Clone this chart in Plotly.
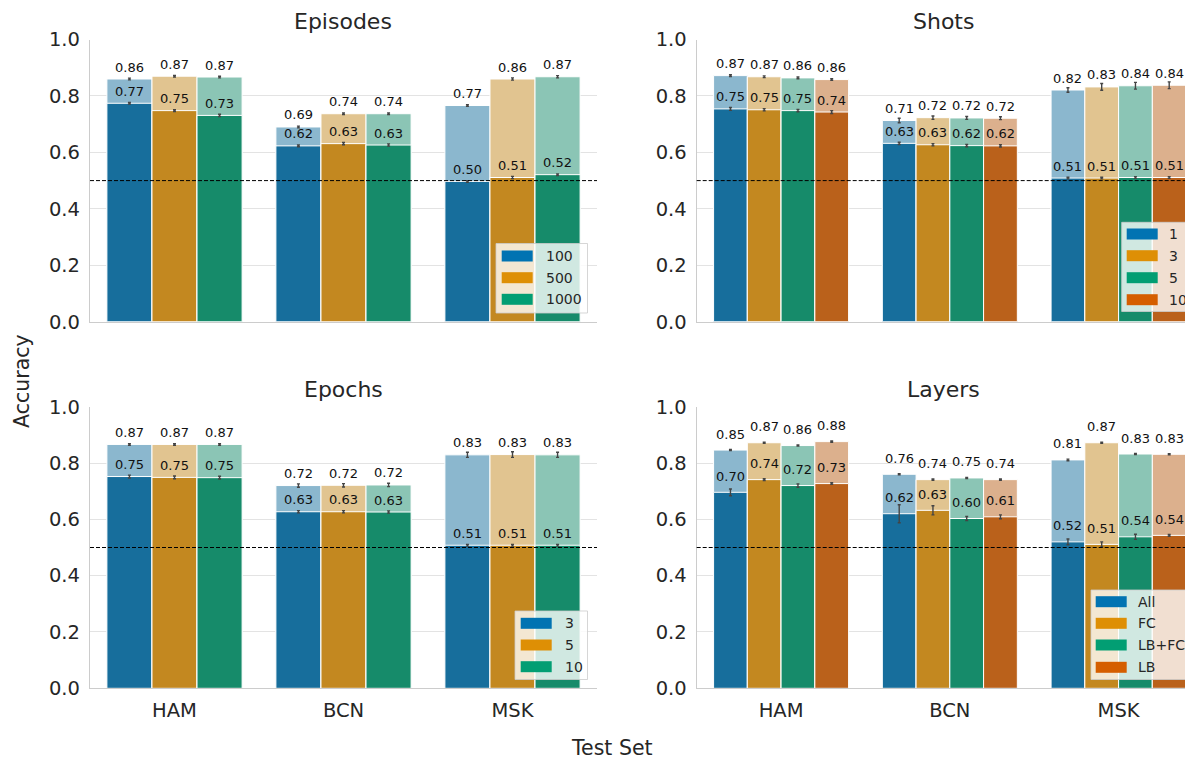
import plotly.graph_objects as go

# ---------------- data ----------------
categories = ["HAM", "BCN", "MSK"]

episodes_hues = ["100", "500", "1000"]
episodes_top = [[0.860, 0.690, 0.766], [0.870, 0.737, 0.860], [0.867, 0.737, 0.868]]
episodes_top_err = [[0.003, 0.003, 0.003], [0.003, 0.003, 0.004], [0.003, 0.003, 0.004]]
episodes_acc = [[0.774, 0.623, 0.497], [0.748, 0.631, 0.511], [0.731, 0.626, 0.521]]
episodes_acc_err = [[0.003, 0.003, 0.003], [0.003, 0.004, 0.004], [0.004, 0.004, 0.003]]

shots_hues = ["1", "3", "5", "10"]
shots_top = [[0.872, 0.713, 0.821], [0.868, 0.723, 0.832], [0.864, 0.722, 0.836], [0.858, 0.721, 0.838]]
shots_top_err = [[0.003, 0.008, 0.008], [0.003, 0.006, 0.012], [0.003, 0.005, 0.012], [0.003, 0.005, 0.012]]
shots_acc = [[0.754, 0.632, 0.509], [0.751, 0.627, 0.509], [0.748, 0.624, 0.511], [0.743, 0.623, 0.511]]
shots_acc_err = [[0.005, 0.004, 0.003], [0.004, 0.004, 0.003], [0.004, 0.004, 0.003], [0.005, 0.004, 0.003]]

epochs_hues = ["3", "5", "10"]
epochs_top = [[0.866, 0.720, 0.829], [0.866, 0.721, 0.830], [0.866, 0.722, 0.829]]
epochs_top_err = [[0.003, 0.006, 0.009], [0.003, 0.006, 0.010], [0.003, 0.006, 0.009]]
epochs_acc = [[0.752, 0.627, 0.508], [0.749, 0.627, 0.508], [0.748, 0.626, 0.508]]
epochs_acc_err = [[0.005, 0.004, 0.003], [0.005, 0.004, 0.003], [0.005, 0.004, 0.003]]

layers_hues = ["All", "FC", "LB+FC", "LB"]
layers_top = [[0.846, 0.760, 0.811], [0.872, 0.741, 0.872], [0.862, 0.747, 0.832], [0.876, 0.741, 0.831]]
layers_top_err = [[0.002, 0.002, 0.003], [0.002, 0.002, 0.002], [0.002, 0.002, 0.002], [0.002, 0.002, 0.002]]
layers_acc = [[0.696, 0.620, 0.520], [0.741, 0.632, 0.511], [0.720, 0.603, 0.538], [0.727, 0.609, 0.543]]
layers_acc_err = [[0.012, 0.032, 0.010], [0.003, 0.016, 0.009], [0.006, 0.007, 0.009], [0.003, 0.007, 0.003]]

chance_level = 0.5
y_ticks = [0.0, 0.2, 0.4, 0.6, 0.8, 1.0]

# ---------------- styling ----------------
VW, VH = 1193, 761          # browser viewport
OX, OY = 8, 8               # page body margin
W, H = VW - OX, VH - OY     # figure size
FONT = "DejaVu Sans"
TXT = "#262626"
base_colors = ["#0173b2", "#de8f05", "#029e73", "#d55e00"]
dark_colors = ["#176e9c", "#c38820", "#168b6a", "#ba611b"]
light_colors = ["#8bb7ce", "#e1c490", "#8bc5b5", "#dcb08d"]


def fx(p):
    return (p - OX) / W


def fy(p):
    return 1 - (p - OY) / H


UNIT = 168.75
panels = [
    dict(title="Episodes", hues=episodes_hues, top=episodes_top, top_err=episodes_top_err,
         acc=episodes_acc, acc_err=episodes_acc_err,
         xpx=(90, 597), ypx=(39.5, 321.7), xmax=2.5, ticklabels=False, shift=12, tcx=343.5,
         leg=dict(box=(496, 243.5, 587.5, 313), patch=(501.7, 532.7), rows=[256, 277.7, 299.3], tx=544.3)),
    dict(title="Shots", hues=shots_hues, top=shots_top, top_err=shots_top_err,
         acc=shots_acc, acc_err=shots_acc_err,
         xpx=(696.7, VW), ypx=(39.5, 321.7), xmax=-0.5 + (VW - 696.7) / UNIT, ticklabels=False, shift=12, tcx=943.5,
         leg=dict(box=(1121.7, 222.3, 1205, 311.5), patch=(1126.7, 1157.7), rows=[234, 255.7, 277.7, 299.7], tx=1166.5)),
    dict(title="Epochs", hues=epochs_hues, top=epochs_top, top_err=epochs_top_err,
         acc=epochs_acc, acc_err=epochs_acc_err,
         xpx=(90, 597), ypx=(406.7, 688.3), xmax=2.5, ticklabels=True, shift=12, tcx=343.5,
         leg=dict(box=(515, 611, 587.5, 679.5), patch=(520.7, 551.7), rows=[623.3, 645, 666.7], tx=563.3)),
    dict(title="Layers", hues=layers_hues, top=layers_top, top_err=layers_top_err,
         acc=layers_acc, acc_err=layers_acc_err,
         xpx=(696.7, VW), ypx=(406.7, 688.3), xmax=-0.5 + (VW - 696.7) / UNIT, ticklabels=True, shift=16, tcx=943.5,
         leg=dict(box=(1091, 590, 1205, 679.5), patch=(1095.7, 1126.7), rows=[601.7, 623.3, 645, 667.3], tx=1135.5)),
]

fig = go.Figure()
annotations = []
shapes = []
layout = {}

for k, p in enumerate(panels):
    sfx = "" if k == 0 else str(k + 1)
    xa, ya = "x" + sfx, "y" + sfx
    n = len(p["hues"])
    w = 0.8 / n
    cat_idx = list(range(len(categories)))
    for i in range(n):
        off = -0.4 + w * (i + 0.5)
        xs = [c + off for c in cat_idx]
        for vals, errs, cols in ((p["top"][i], p["top_err"][i], light_colors),
                                 (p["acc"][i], p["acc_err"][i], dark_colors)):
            fig.add_trace(go.Bar(
                x=xs, y=vals, width=w, xaxis=xa, yaxis=ya, showlegend=False,
                marker=dict(color=cols[i], line=dict(color="white", width=1)),
                error_y=dict(type="data", array=errs, color="#444444", thickness=1.4, width=1.5),
                hoverinfo="skip"))
            for xv, v in zip(xs, vals):
                annotations.append(dict(
                    x=xv, y=v, xref=xa, yref=ya, text=f"{v:.2f}", showarrow=False,
                    yanchor="middle", yshift=p["shift"],
                    font=dict(family=FONT, size=13, color="#111111")))

    x0, x1 = p["xpx"]
    ytop, ybot = p["ypx"]
    layout["xaxis" + sfx] = dict(
        domain=[fx(x0), min(1.0, fx(x1))], range=[-0.5, p["xmax"]], anchor=ya, automargin=False,
        tickvals=cat_idx, ticktext=categories, showticklabels=p["ticklabels"],
        ticks="outside", ticklen=4, tickcolor="rgba(0,0,0,0)",
        tickfont=dict(family=FONT, size=19.5, color=TXT),
        showgrid=False, zeroline=False, showline=True, linecolor="#cccccc", linewidth=1.3,
        fixedrange=True)
    layout["yaxis" + sfx] = dict(
        domain=[fy(ybot), fy(ytop)], range=[0, 1.0], anchor=xa, automargin=False,
        tickvals=y_ticks, ticktext=[f"{t:.1f}" for t in y_ticks],
        ticks="outside", ticklen=5, tickcolor="rgba(0,0,0,0)",
        tickfont=dict(family=FONT, size=19.5, color=TXT),
        showgrid=True, gridcolor="#e3e3e3", gridwidth=1.3,
        zeroline=False, showline=True, linecolor="#cccccc", linewidth=1.3,
        fixedrange=True)

    # chance line
    shapes.append(dict(type="line", xref=xa + " domain", yref=ya, x0=0, x1=1,
                       y0=chance_level, y1=chance_level, layer="above",
                       line=dict(color="black", width=1, dash="4px,2px")))

    # title
    annotations.append(dict(x=fx(p["tcx"]), y=fy(ytop - 17.5), xref="paper", yref="paper",
                            text=p["title"], showarrow=False, xanchor="center", yanchor="middle",
                            font=dict(family=FONT, size=22, color=TXT)))

    # legend (manual, to mimic wide patches)
    lg = p["leg"]
    bx0, by0, bx1, by1 = lg["box"]
    shapes.append(dict(type="rect", xref="paper", yref="paper", x0=fx(bx0), x1=fx(bx1),
                       y0=fy(by1), y1=fy(by0), layer="above",
                       fillcolor="rgba(255,255,255,0.8)",
                       line=dict(color="rgba(204,204,204,0.8)", width=1)))
    for i, (lab, ry) in enumerate(zip(p["hues"], lg["rows"])):
        shapes.append(dict(type="rect", xref="paper", yref="paper",
                           x0=fx(lg["patch"][0]), x1=fx(lg["patch"][1]),
                           y0=fy(ry + 5.5), y1=fy(ry - 5.5), layer="above",
                           fillcolor=base_colors[i], line=dict(width=0)))
        annotations.append(dict(x=fx(lg["tx"]), y=fy(ry), xref="paper", yref="paper",
                                text=lab, showarrow=False, xanchor="left", yanchor="middle",
                                font=dict(family=FONT, size=14, color=TXT)))

# shared axis labels
annotations.append(dict(x=fx(22), y=fy(381), xref="paper", yref="paper", text="Accuracy",
                        showarrow=False, textangle=-90, xanchor="center", yanchor="middle",
                        font=dict(family=FONT, size=20.5, color=TXT)))
annotations.append(dict(x=fx(612), y=fy(748), xref="paper", yref="paper", text="Test Set",
                        showarrow=False, xanchor="center", yanchor="middle",
                        font=dict(family=FONT, size=20.5, color=TXT)))

fig.update_layout(
    width=W, height=H, autosize=False, margin=dict(l=0, r=0, t=0, b=0, pad=0),
    paper_bgcolor="white", plot_bgcolor="white",
    barmode="overlay", showlegend=False,
    annotations=annotations, shapes=shapes,
    font=dict(family=FONT, color=TXT),
    **layout)

fig.write_html("out.html")
